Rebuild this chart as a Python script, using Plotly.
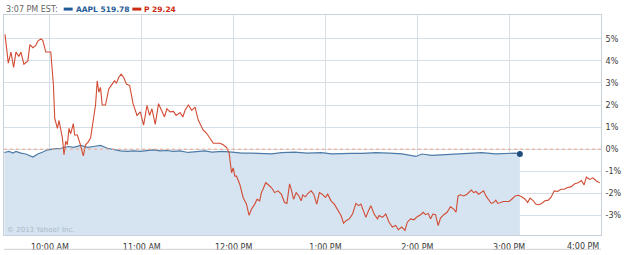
import datetime as dt
import plotly.graph_objects as go

# ---------------- data ----------------
session_date = "2013-01-02"
open_time = "09:30"

# AAPL: minutes after the open, % change from previous close
aapl_minutes = [0.2, 3.25, 5.85, 7.8, 11.05, 14.3, 18.85, 22.1, 25.35, 28.6,
                32.5, 37.05, 42.25, 45.5, 50.05, 54.6, 58.5, 63.05, 67.6, 71.5,
                76.05, 80.6, 84.5, 89.05, 93.6, 97.5, 102.05, 106.6, 110.5, 115.05,
                120.25, 124.8, 131.3, 135.85, 142.35, 148.85, 155.35, 161.85, 168.35, 174.85,
                181.35, 189.8, 198.25, 207.35, 213.85, 220.35, 226.85, 234, 243.1, 251.55,
                260, 269.1, 273, 279.5, 286, 295.1, 303.55, 312, 321.1, 327.6,
                334.1, 337]
aapl_pct = [-0.15, -0.1, -0.18, -0.1, -0.18, -0.22, -0.36, -0.22, -0.13, -0.03,
            0.01, 0.04, 0.12, 0.08, 0.17, 0.08, 0.12, 0.17, 0.04, -0.03,
            -0.08, -0.1, -0.08, -0.1, -0.08, -0.03, -0.08, -0.06, -0.1, -0.08,
            -0.15, -0.13, -0.08, -0.13, -0.1, -0.13, -0.18, -0.18, -0.18, -0.21,
            -0.16, -0.13, -0.18, -0.16, -0.21, -0.19, -0.19, -0.19, -0.16, -0.18,
            -0.21, -0.33, -0.22, -0.28, -0.25, -0.21, -0.18, -0.16, -0.21, -0.18,
            -0.18, -0.22]

# P (Pandora): minutes after the open, % change from previous close
p_minutes = [0.65, 2.8, 4.55, 6.3, 7.8, 9.75, 11.05, 13, 15.6, 16.9,
             18.85, 20.8, 22.1, 24.05, 25.35, 27.3, 30.55, 32.3, 33.15, 34.9,
             35.95, 37.05, 38.15, 39.2, 40.3, 41.4, 42.45, 43.55, 45.3, 46.15,
             47.9, 49.6, 51.8, 53.3, 54.8, 56.55, 58.3, 59.8, 60.9, 61.95,
             63.05, 64.15, 66.3, 68.45, 70.65, 72.15, 73.45, 74.95, 76.5, 78.2,
             79.95, 82.1, 84.3, 86.9, 89.05, 91.2, 93.4, 95.1, 96.65, 98.8,
             100.95, 103.15, 104.85, 106.4, 108.55, 110.7, 112.45, 115.05, 116.8, 118.3,
             120.45, 122.65, 124.8, 126.95, 129.15, 130.2, 132.4, 134.55, 136.7, 138.9,
             141.05, 143.2, 145.4, 147.1, 148.65, 149.7, 150.8, 151.9, 154.05, 156.2,
             158.4, 160.1, 161.65, 163.8, 165.3, 167.05, 168.15, 169.2, 170.95, 172.45,
             174.65, 176.8, 178.95, 181.15, 183.3, 184.8, 186.55, 187.65, 189.15, 190.9,
             192.6, 194.15, 195.2, 196.95, 198.45, 200.65, 202.35, 204.3, 206.05, 207.8,
             209.95, 211.45, 213.65, 215.8, 217.95, 220.15, 221.85, 223.4, 225.55, 227.7,
             229.9, 231.6, 233.15, 235.3, 236.4, 238.1, 239.65, 241.8, 243.95, 245.05,
             247.2, 249.4, 251.55, 253.7, 255.9, 257.6, 259.8, 261.95, 263.45, 265.65,
             267.8, 269.95, 272.15, 273.85, 275.4, 277.1, 278.65, 280.15, 281.9, 283.6,
             285.15, 287.3, 289.45, 291.65, 293.8, 295.3, 296.6, 298.15, 300.3, 302.45,
             303.55, 305.3, 306.8, 308.3, 310.05, 311.8, 313.3, 314.8, 316.55, 318.3,
             319.8, 321.3, 322.6, 324.15, 326.3, 328.45, 330.0, 331.7, 333.9, 336.05,
             338.2, 340.4, 342.1, 343.65, 345.8, 347.3, 349.05, 351.2, 353.4, 355.55,
             357.3, 359.45, 361.6, 363.8, 365.95, 368.1, 370.3, 372.9, 375.05, 377.2,
             378.95, 380.45, 382.65, 384.8, 386.95, 389.15]
p_pct = [5.2, 3.9, 4.4, 3.7, 4.4, 4.2, 4.4, 3.85, 4.0, 4.74,
         4.6, 4.7, 4.9, 5.0, 4.93, 4.4, 4.4, 2.9, 1.39, 0.94,
         1.3, 0.8, 0.5, -0.25, 0.36, 0.2, 0.94, 0.7, 1.16, 0.64,
         0.64, 0.27, -0.3, 0.2, 0.31, 0.5, 1.39, 2.0, 3.1, 2.58,
         2.8, 2.0, 2.0, 2.73, 2.95, 3.1, 3.0, 3.25, 3.4, 3.25,
         2.95, 2.88, 2.06, 1.53, 1.69, 1.09, 1.98, 1.53, 1.83, 1.12,
         2.06, 1.76, 1.46, 1.83, 1.69, 1.71, 1.53, 1.66, 1.46, 1.76,
         2.0, 1.76, 1.91, 1.31, 1.02, 0.86, 0.72, 0.49, 0.27, 0.27,
         0.27, 0.2, 0.07, -0.18, -1.07, -0.85, -1.22, -1.22, -1.6, -2.19,
         -2.49, -3.0, -2.72, -2.49, -2.27, -2.34, -1.97, -1.82, -1.52, -1.6,
         -1.74, -1.97, -1.89, -2.04, -2.42, -2.46, -1.57, -1.82, -2.27, -1.97,
         -2.12, -2.34, -2.07, -2.16, -2.01, -1.89, -2.04, -2.49, -1.97, -2.04,
         -2.19, -2.04, -2.34, -2.49, -2.72, -3.01, -3.36, -3.24, -3.16, -2.94,
         -2.46, -2.56, -2.49, -2.94, -3.09, -2.79, -2.56, -2.94, -3.16, -3.01,
         -3.09, -2.94, -3.31, -3.53, -3.46, -3.65, -3.53, -3.68, -3.31, -3.16,
         -3.2, -3.06, -2.97, -2.86, -2.97, -2.91, -3.16, -2.94, -2.97, -3.46,
         -3.12, -2.97, -2.86, -2.61, -2.72, -2.86, -2.12, -2.07, -2.12, -2.04,
         -1.97, -1.85, -1.97, -1.92, -2.04, -1.97, -1.89, -2.12, -2.27, -2.46,
         -2.42, -2.31, -2.46, -2.42, -2.37, -2.37, -2.37, -2.27, -2.12, -2.09,
         -2.16, -2.27, -2.42, -2.22, -2.34, -2.49, -2.52, -2.46, -2.34, -2.31,
         -2.19, -1.89, -1.92, -1.82, -1.82, -1.74, -1.71, -1.57, -1.52, -1.42,
         -1.62, -1.27, -1.37, -1.3, -1.44, -1.52]

x_tick_times = ["10:00", "11:00", "12:00", "13:00", "14:00", "15:00"]
x_tick_labels = ["10:00 AM", "11:00 AM", "12:00 PM", "1:00 PM", "2:00 PM", "3:00 PM"]
last_tick_time = "16:00"
last_tick_label = "4:00 PM"
y_tick_vals = [-3, -2, -1, 0, 1, 2, 3, 4, 5]
y_tick_labels = ["-3%", "-2%", "-1%", "0%", "1%", "2%", "3%", "4%", "5%"]
header_time = "3:07 PM EST:"
aapl_label = "AAPL 519.78"
p_label = "P 29.24"
copyright_text = "© 2013 Yahoo! Inc."

# ---------------- styling ----------------
Y_MIN, Y_MAX = -3.89, 6.08
FONT = "DejaVu Sans"
BLUE_LINE = "#4d7aa6"
BLUE_FILL = "#d5e4f0"
BLUE_DOT = "#1f4e7e"
BLUE_TEXT = "#1f5b97"
RED_LINE = "#d24b33"
RED_TEXT = "#cc2a12"
GRID = "#d6dee6"
TICK_COLOR = "#3a3a3a"

W, H = 625, 255
ML, MR, MT, MB = 3, 22, 15, 17
PW, PH = W - ML - MR, H - MT - MB


def px(xp):
    return (xp - ML) / PW


def py(yp):
    return (H - MB - yp) / PH


base = dt.datetime.fromisoformat(f"{session_date} {open_time}")


def at(m):
    return base + dt.timedelta(minutes=m)


def hhmm(s):
    return dt.datetime.fromisoformat(f"{session_date} {s}")


aapl_x = [at(m) for m in aapl_minutes]
p_x = [at(m) for m in p_minutes]
x_start = base
x_end = hhmm(last_tick_time)

fig = go.Figure()
# baseline at the bottom of the plot for the AAPL area
fig.add_trace(go.Scatter(x=[aapl_x[0], aapl_x[-1]], y=[Y_MIN, Y_MIN], mode="lines",
                         line=dict(width=0, color=BLUE_FILL), hoverinfo="skip",
                         showlegend=False))
fig.add_trace(go.Scatter(x=aapl_x, y=aapl_pct, mode="lines", name="AAPL",
                         line=dict(color=BLUE_LINE, width=1.2),
                         fill="tonexty", fillcolor=BLUE_FILL, showlegend=False))
fig.add_trace(go.Scatter(x=p_x, y=p_pct, mode="lines", name="P",
                         line=dict(color=RED_LINE, width=1.1), showlegend=False))
fig.add_trace(go.Scatter(x=[aapl_x[-1]], y=[aapl_pct[-1]], mode="markers",
                         marker=dict(color=BLUE_DOT, size=6), showlegend=False))

# 0% reference line
fig.add_shape(type="line", xref="paper", x0=0, x1=1, yref="y", y0=0, y1=0,
              line=dict(color="#f0a58a", width=1, dash="dot"), layer="above")
# separator line under the time axis
fig.add_shape(type="line", xref="paper", x0=0, x1=1, yref="paper", y0=py(252.5), y1=py(252.5),
              line=dict(color="#d0d0d0", width=1))

fig.update_xaxes(type="date", range=[x_start, x_end],
                 tickvals=[hhmm(t) for t in x_tick_times], ticktext=x_tick_labels,
                 showgrid=True, gridcolor=GRID, gridwidth=1,
                 showline=True, linecolor="#c9d2da", mirror=True,
                 ticks="", ticklabelstandoff=4,
                 tickfont=dict(family=FONT, size=8, color=TICK_COLOR),
                 zeroline=False)
fig.update_yaxes(range=[Y_MIN, Y_MAX], side="right",
                 tickvals=y_tick_vals, ticktext=y_tick_labels,
                 showgrid=True, gridcolor=GRID, gridwidth=1,
                 showline=True, linecolor="#c9d2da", mirror=True,
                 ticks="", ticklabelstandoff=2,
                 tickfont=dict(family=FONT, size=8, color=TICK_COLOR),
                 zeroline=False)

fig.add_annotation(x=x_end, y=0, xref="x", yref="paper", yanchor="top", xanchor="right",
                   text=last_tick_label, showarrow=False, yshift=-5,
                   font=dict(family=FONT, size=8, color=TICK_COLOR))
fig.add_annotation(x=px(4), y=py(233), xref="paper", yref="paper", xanchor="left",
                   yanchor="middle", text=copyright_text, showarrow=False,
                   font=dict(family=FONT, size=7, color="#aab9c8"))
fig.add_annotation(x=px(3), y=py(9), xref="paper", yref="paper", xanchor="left",
                   yanchor="middle", text=header_time, showarrow=False,
                   font=dict(family=FONT, size=8, color="#666666"))
fig.add_annotation(x=px(73), y=py(9), xref="paper", yref="paper", xanchor="left",
                   yanchor="middle", text=f"<b>{aapl_label}</b>", showarrow=False,
                   font=dict(family=FONT, size=7.5, color=BLUE_TEXT))
fig.add_annotation(x=px(142), y=py(9), xref="paper", yref="paper", xanchor="left",
                   yanchor="middle", text=f"<b>{p_label}</b>", showarrow=False,
                   font=dict(family=FONT, size=7.5, color=RED_TEXT))
fig.add_shape(type="rect", xref="paper", yref="paper", x0=px(63), x1=px(72),
              y0=py(10.5), y1=py(7.5), fillcolor=BLUE_TEXT, line=dict(width=0))
fig.add_shape(type="rect", xref="paper", yref="paper", x0=px(132), x1=px(141),
              y0=py(10.5), y1=py(7.5), fillcolor=RED_TEXT, line=dict(width=0))

fig.update_layout(width=W, height=H, margin=dict(l=ML, r=MR, t=MT, b=MB),
                  paper_bgcolor="white", plot_bgcolor="white",
                  font=dict(family=FONT), showlegend=False)

fig.write_html("out.html")
